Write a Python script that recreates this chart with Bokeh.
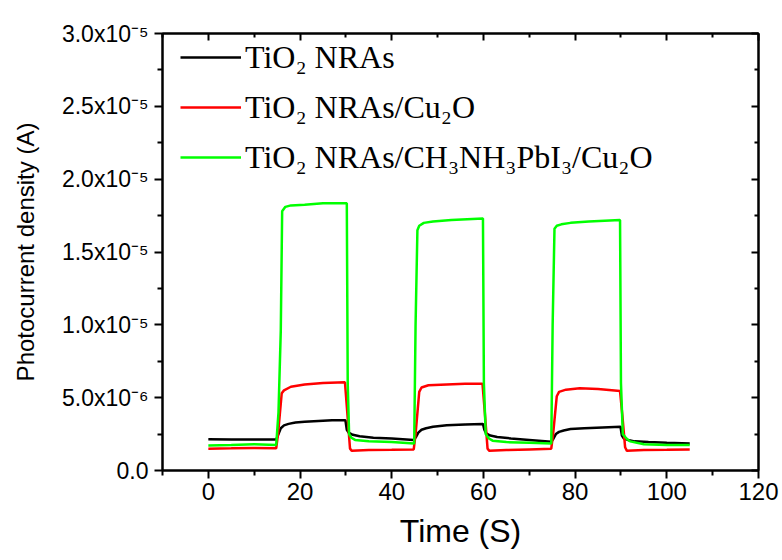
from bokeh.plotting import figure
from bokeh.models import (Range1d, LinearAxis, FixedTicker, CustomJSTickFormatter,
                          Legend, LegendItem)
from bokeh.embed import file_html
from bokeh.resources import INLINE

# ---- data (current in microamps, converted to A below) ----
t_black = [0, 5, 10, 14.8, 15.3, 15.8, 16.5, 17.5, 19, 21, 24, 27, 29.9, 30.2, 30.6, 31.5, 33, 36, 40, 44.8,
           45.3, 45.8, 46.5, 47.5, 49, 52, 56, 59.9, 60.2, 60.6, 61.5, 63, 66, 70, 74.8,
           75.3, 75.8, 76.5, 77.5, 79, 82, 86, 89.9, 90.2, 90.6, 91.5, 93, 96, 100, 105]
i_black_ua = [2.15, 2.12, 2.12, 2.12, 2.5, 2.9, 3.1, 3.2, 3.3, 3.35, 3.4, 3.45, 3.45, 2.8, 2.6, 2.45, 2.35, 2.25, 2.2, 2.1,
              2.3, 2.6, 2.8, 2.9, 3.0, 3.1, 3.15, 3.2, 2.8, 2.55, 2.4, 2.3, 2.2, 2.1, 1.98,
              2.2, 2.5, 2.65, 2.75, 2.85, 2.9, 2.95, 3.0, 2.4, 2.2, 2.1, 2.0, 1.95, 1.9, 1.85]

t_red = [0, 5, 10, 14.8, 15.2, 16, 16.5, 18, 21, 25, 29.8, 30.3, 30.9, 31.3, 35, 40, 44.8,
         45.2, 46, 46.5, 48, 52, 56, 59.8, 60.3, 60.9, 61.3, 65, 70, 74.8,
         75.2, 76, 76.5, 78, 81, 85, 89.8, 90.3, 90.9, 91.3, 95, 100, 105]
i_red_ua = [1.5, 1.52, 1.55, 1.52, 2.5, 5.3, 5.5, 5.75, 5.9, 6.0, 6.05, 4.0, 1.5, 1.35, 1.4, 1.42, 1.45,
            2.5, 5.4, 5.7, 5.85, 5.9, 5.95, 5.95, 4.0, 1.5, 1.35, 1.4, 1.45, 1.5,
            2.5, 5.1, 5.4, 5.55, 5.65, 5.6, 5.45, 3.8, 1.6, 1.35, 1.4, 1.42, 1.45]

t_green = [0, 5, 10, 14.8, 15.3, 15.8, 16.1, 16.8, 18, 21, 25, 30.2, 30.4, 30.7, 31.2, 32, 35, 40, 44.9,
           45.2, 45.6, 46, 47, 49, 53, 59.9, 60.1, 60.5, 61.2, 62, 65, 70, 74.8,
           75.1, 75.5, 76, 77, 79, 83, 89.8, 90.0, 90.4, 91.2, 92, 95, 100, 105]
i_green_ua = [1.72, 1.75, 1.8, 1.75, 4.0, 9.6, 17.8, 18.1, 18.2, 18.25, 18.35, 18.35, 6.0, 2.5, 2.25, 2.1, 2.0, 1.95, 1.85,
              10.0, 16.5, 16.8, 17.0, 17.1, 17.2, 17.3, 6.0, 2.5, 2.2, 2.05, 1.95, 1.9, 1.85,
              10.0, 16.6, 16.8, 16.9, 17.0, 17.1, 17.2, 6.0, 2.5, 2.2, 2.0, 1.8, 1.75, 1.75]

series_labels = ["TiO\u2082 NRAs", "TiO\u2082 NRAs/Cu\u2082O",
                 "TiO\u2082 NRAs/CH\u2083NH\u2083PbI\u2083/Cu\u2082O"]
series_colors = ["#000000", "#ff0000", "#00ff00"]

x_major = [0, 20, 40, 60, 80, 100, 120]
x_minor = [-10, 10, 30, 50, 70, 90, 110]
x_labels = ["0", "20", "40", "60", "80", "100", "120"]
y_major = [0, 5e-6, 1e-5, 1.5e-5, 2e-5, 2.5e-5, 3e-5]
y_minor = [2.5e-6, 7.5e-6, 1.25e-5, 1.75e-5, 2.25e-5, 2.75e-5]
y_labels = ["0.0", "5.0x10\u207b\u2076", "1.0x10\u207b\u2075", "1.5x10\u207b\u2075",
            "2.0x10\u207b\u2075", "2.5x10\u207b\u2075", "3.0x10\u207b\u2075"]

p = figure(width=782, height=560, x_range=Range1d(-10, 120), y_range=Range1d(0, 3e-5),
           output_backend="svg", toolbar_location=None,
           min_border_left=162, min_border_right=24, min_border_top=33, min_border_bottom=90)
p.grid.visible = False
p.outline_line_color = "black"
p.outline_line_width = 2
p.background_fill_color = "white"
p.border_fill_color = "white"

fmt_code = """
let best = 0, d = Infinity;
for (let i = 0; i < tvals.length; i++) {
  const dd = Math.abs(tvals[i] - tick);
  if (dd < d) { d = dd; best = i; }
}
return tlabels[best];
"""

xa = p.xaxis[0]
xa.ticker = FixedTicker(ticks=x_major, minor_ticks=x_minor)
xa.formatter = CustomJSTickFormatter(args=dict(tvals=x_major, tlabels=x_labels), code=fmt_code)
ya = p.yaxis[0]
ya.ticker = FixedTicker(ticks=y_major, minor_ticks=y_minor)
ya.formatter = CustomJSTickFormatter(args=dict(tvals=y_major, tlabels=y_labels), code=fmt_code)

for ax in (xa, ya):
    ax.axis_line_width = 2
    ax.major_tick_line_width = 2
    ax.minor_tick_line_width = 2
    ax.major_tick_out = 8
    ax.major_tick_in = 0
    ax.minor_tick_out = 5
    ax.minor_tick_in = 0
    ax.major_label_text_font = "Liberation Sans"
    ax.major_label_text_font_size = "23px"
    ax.major_label_text_color = "black"
    ax.axis_label_text_font = "Liberation Sans"
    ax.axis_label_text_font_style = "normal"
    ax.axis_label_text_color = "black"

xa.major_label_text_font_size = "24px"
xa.axis_label = "Time (S)"
xa.axis_label_text_font_size = "32px"
xa.major_label_standoff = 4
xa.axis_label_standoff = 10
ya.axis_label = "Photocurrent density (A)"
ya.axis_label_text_font_size = "24px"
ya.major_label_standoff = 6
ya.axis_label_standoff = 20

# mirror axes (inward ticks, no labels)
top = LinearAxis(ticker=FixedTicker(ticks=x_major, minor_ticks=x_minor),
                 formatter=CustomJSTickFormatter(code="return '';"))
right = LinearAxis(ticker=FixedTicker(ticks=y_major, minor_ticks=y_minor),
                   formatter=CustomJSTickFormatter(code="return '';"))
for ax in (top, right):
    ax.axis_line_width = 2
    ax.major_tick_line_width = 2
    ax.minor_tick_line_width = 2
    ax.major_tick_in = 7
    ax.major_tick_out = 0
    ax.minor_tick_in = 4
    ax.minor_tick_out = 0
    ax.major_label_standoff = 0
p.add_layout(top, "above")
p.add_layout(right, "right")

ts = [t_black, t_red, t_green]
vs = [[v * 1e-6 for v in i_black_ua], [v * 1e-6 for v in i_red_ua], [v * 1e-6 for v in i_green_ua]]
items = []
for t, v, c, lab in zip(ts, vs, series_colors, series_labels):
    r = p.line(t, v, line_color=c, line_width=2.5)
    items.append(LegendItem(label=lab, renderers=[r]))

legend = Legend(items=items, location=(18, 291), orientation="vertical",
                glyph_width=61, glyph_height=44, label_height=44, spacing=6,
                label_standoff=4, padding=0, margin=0,
                label_text_font="Liberation Serif", label_text_font_size="32px",
                label_text_color="black",
                border_line_color=None, background_fill_alpha=0)
p.add_layout(legend, "center")

open("out.html", "w").write(file_html(p, INLINE))
